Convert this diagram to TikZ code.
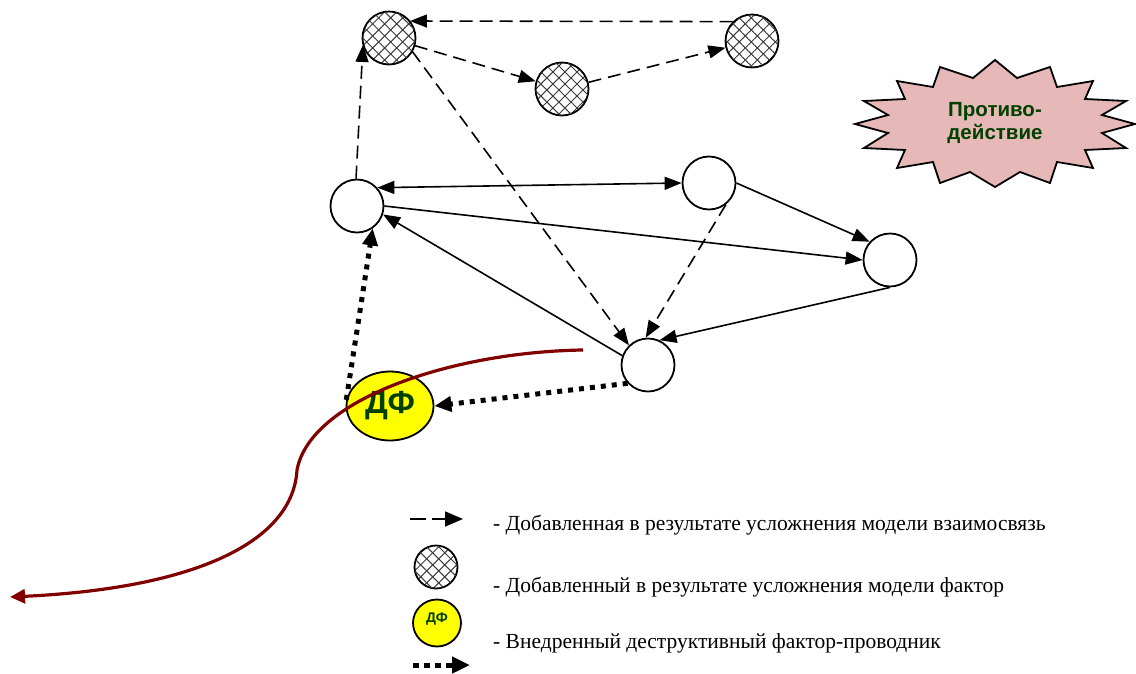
\documentclass[tikz,border=0pt]{standalone}
\usepackage{fontspec}
\setmainfont{Liberation Serif}
\newfontfamily\arialfont{Liberation Sans}
\usetikzlibrary{arrows.meta,patterns.meta,shapes.geometric}
\definecolor{dfgreen}{RGB}{0,64,0}
\definecolor{dfyellow}{RGB}{255,255,0}
\definecolor{starpink}{RGB}{230,184,183}
\definecolor{curvered}{RGB}{128,0,0}
\definecolor{hatchgray}{RGB}{60,60,60}
\tikzset{
  factor/.style={circle, draw, line width=1.8pt, fill=white, minimum size=53pt, inner sep=0pt},
  hatched/.style={circle, draw, line width=1.8pt, minimum size=53pt, inner sep=0pt,
    preaction={fill=white}, pattern color=hatchgray,
    pattern={Lines[angle=45,distance=8.5pt,line width=1pt]},
    postaction={pattern color=hatchgray, pattern={Lines[angle=-45,distance=8.5pt,line width=1pt]}}},
  dfnode/.style={ellipse, draw, line width=1.8pt, fill=dfyellow, minimum width=87pt, minimum height=69pt, inner sep=0pt,
    font=\arialfont\fontsize{32}{36}\selectfont\bfseries, text=dfgreen},
  solidarrow/.style={line width=1.6pt, -{Triangle[length=17pt,width=13pt]}},
  bothsolid/.style={line width=1.6pt, {Triangle[length=17pt,width=13pt]}-{Triangle[length=17pt,width=13pt]}},
  addedlink/.style={line width=1.6pt, dash pattern=on 13pt off 7pt, -{Triangle[length=17pt,width=13pt]}},
  dflink/.style={line width=5pt, dash pattern=on 5pt off 6pt, -{Triangle[length=17pt,width=15pt]}},
  startext/.style={font=\arialfont\fontsize{20.5}{23}\selectfont\bfseries, text=dfgreen, align=center},
  legendtext/.style={anchor=base west, font=\fontsize{21.5}{25}\selectfont, inner sep=0pt},
}
\begin{document}
\begin{tikzpicture}[x=1pt,y=-1pt]
\useasboundingbox (0,0) rectangle (1136,673);

% counteraction star
\draw[line width=1.8pt, fill=starpink, line join=miter]
 (995,60) -- (1017,78) -- (1050,67) -- (1057,87) -- (1093,81) -- (1085,99) -- (1126,101) -- (1102,115)
 -- (1135,124) -- (1102,133) -- (1126,148) -- (1085,150) -- (1093,168) -- (1057,162) -- (1050,183) -- (1020,172)
 -- (995,187) -- (970,172) -- (940,183) -- (933,162) -- (897,168) -- (905,150) -- (864,148) -- (888,133)
 -- (855,124) -- (888,115) -- (864,101) -- (905,99) -- (897,81) -- (933,87) -- (940,67) -- (973,78) -- cycle;
\node[startext] (star) at (995,123) {Противо-\\действие};

% nodes
\node[hatched] (H1) at (389,38) {};
\node[hatched] (H2) at (562,89) {};
\node[hatched] (H3) at (752,41) {};
\node[factor] (C1) at (357,206) {};
\node[factor] (C2) at (709,183) {};
\node[factor] (C3) at (890,260) {};
\node[factor] (C4) at (648,365) {};
\node[dfnode] (DF) at (390,406) {ДФ};

% added links
\draw[addedlink] (H3.135) -- (H1.39);
\draw[addedlink] (H1) -- (H2);
\draw[addedlink] (H2) -- (H3);
\draw[addedlink] (C1.92) -- (H1.195);
\draw[addedlink] (H1.-30) -- (C4.134);
\draw[addedlink] (C2.-52) -- (C4.95);

% base links
\draw[bothsolid] (C1.42) -- (C2.west);
\draw[solidarrow] (C1.east) -- (C3.west);
\draw[solidarrow] (C2.east) -- (C3.138);
\draw[solidarrow] (C3.south) -- (C4.65);
\draw[solidarrow] (C4.160) -- (C1.-18);

% destructive factor links
\draw[dflink] (DF.172) -- (C1.-55);
\draw[dflink] (C4.222) -- (DF.east);

% curve
\coordinate (rs) at (583,350);
\coordinate (rm) at (297,470);
\coordinate (re) at (10,597);
\draw[curvered, line width=3.2pt, -{Triangle[length=15pt,width=14pt]}]
  (rs) .. controls (450,352) and (310,400) .. (rm)
       .. controls (293,540) and (200,588) .. (re);

% legend
\coordinate (l1a) at (410,519);
\coordinate (l1b) at (463,519);
\draw[line width=1.8pt, dash pattern=on 16pt off 6pt, -{Triangle[length=18pt,width=15pt]}] (l1a) -- (l1b);
\node[legendtext] (t1) at (493,530) {- Добавленная в результате усложнения модели взаимосвязь};
\node[hatched, minimum size=43pt] (lh) at (436,567) {};
\node[legendtext] (t2) at (493,592) {- Добавленный в результате усложнения модели фактор};
\node[dfnode, minimum width=48pt, minimum height=47pt, font=\arialfont\fontsize{14}{16}\selectfont\bfseries] (ldf) at (437,623) {\raisebox{10pt}{ДФ}};
\node[legendtext] (t3) at (493,648) {- Внедренный деструктивный фактор-проводник};
\coordinate (l3a) at (413,665);
\coordinate (l3b) at (470,665);
\draw[dflink, dash pattern=on 6pt off 5pt, -{Triangle[length=18pt,width=16pt]}] (l3a) -- (l3b);
\end{tikzpicture}
\end{document}
